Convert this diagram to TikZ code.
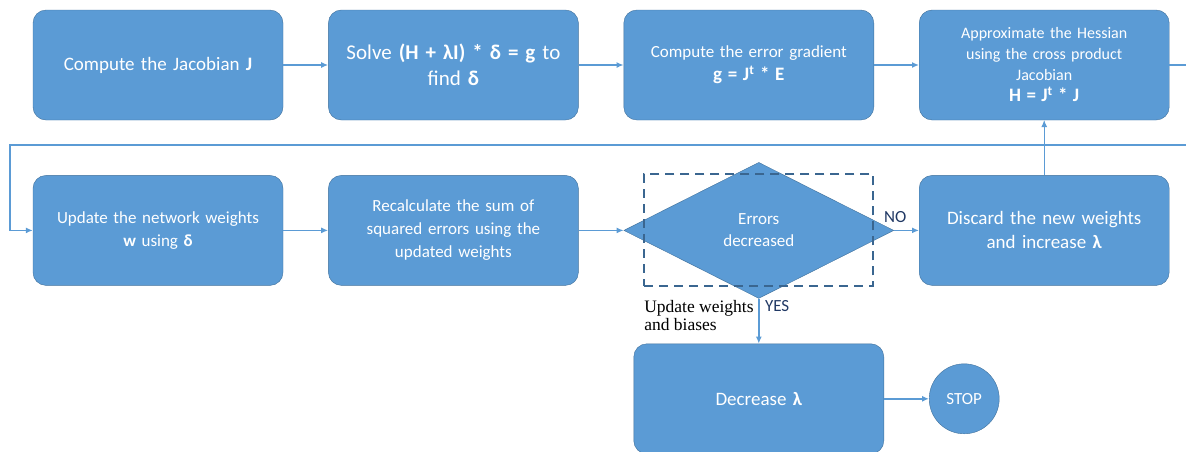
\documentclass[tikz,border=0pt]{standalone}
\usepackage{fontspec}
\setmainfont{Carlito}
\newfontfamily\notefont{Liberation Serif}
\usepackage{xcolor}
\definecolor{boxblue}{HTML}{5B9BD5}
\definecolor{edgeblue}{HTML}{41719C}
\definecolor{dashblue}{HTML}{3A6690}
\definecolor{labelnavy}{HTML}{203864}
\usetikzlibrary{arrows.meta,positioning,shapes.geometric}

\begin{document}
\begin{tikzpicture}[
  x=1pt,y=1pt,
  node distance=45pt,
  stepbox/.style={draw=edgeblue,fill=boxblue,rounded corners=13pt,align=center,minimum width=250pt,minimum height=110pt,text width=238pt,text=white,font=\fontsize{17}{23}\selectfont},
  decision/.style={diamond,draw=edgeblue,fill=boxblue,align=center,minimum width=270pt,minimum height=136pt,inner sep=0pt,text=white,font=\fontsize{17}{22}\selectfont},
  stopnode/.style={circle,draw=edgeblue,fill=boxblue,minimum size=70pt,inner sep=0pt,text=white,font=\fontsize{17}{19}\selectfont},
  arrow/.style={-{Latex[length=7pt,width=6pt]},line width=1.6pt,draw=boxblue},
  thinarrow/.style={-{Latex[length=7pt,width=6pt]},line width=0.7pt,draw=boxblue},
  answer/.style={text=labelnavy,font=\fontsize{17}{19}\selectfont,inner sep=2pt}
]
\useasboundingbox (0,0) rectangle (1186,-451);
% first row
\node[stepbox,font=\fontsize{19}{25}\selectfont] (jac) at (158,-65) {Compute the Jacobian \textbf{J}};
\node[stepbox,right=of jac,font=\fontsize{21}{26}\selectfont] (solve) {Solve \textbf{(H + λI) * δ = g} to\\find \textbf{δ}};
\node[stepbox,right=of solve] (grad) {Compute the error gradient\\{\fontsize{19}{24}\selectfont\textbf{g = J\textsuperscript{t} * E}}};
\node[stepbox,right=of grad,font=\fontsize{16}{21}\selectfont] (hess) {Approximate the Hessian\\using the cross product\\Jacobian\\{\fontsize{19}{22}\selectfont\textbf{H = J\textsuperscript{t} * J}}};
% second row
\node[stepbox,below=55pt of jac] (upd) {Update the network weights\\\textbf{w} using \textbf{δ}};
\node[stepbox,right=of upd] (recalc) {Recalculate the sum of\\squared errors using the\\updated weights};
\node[decision,right=of recalc] (check) {Errors\\decreased};
\node[draw=dashblue,dashed,dash pattern=on 9pt off 6pt,line width=2pt,minimum width=229pt,minimum height=112pt] (frame) at (check) {};
\node[stepbox,right=25pt of check,font=\fontsize{19}{24}\selectfont] (discard) {Discard the new weights\\and increase \textbf{λ}};
% third row
\node[stepbox,below=of check,font=\fontsize{19}{24}\selectfont] (decr) {Decrease \textbf{λ}};
\node[stopnode,right=of decr] (stop) {STOP};
% loop back to second row
\coordinate (loopR) at (1200,-145);
\coordinate (loopL) at (10,-145);

\draw[arrow] (jac) -- (solve);
\draw[arrow] (solve) -- (grad);
\draw[arrow] (grad) -- (hess);
\draw[arrow] (hess.east) -| (loopR) -- (loopL) |- (upd.west);
\draw[arrow] (upd) -- (recalc);
\draw[arrow] (recalc) -- (check);
\draw[arrow] (check.east) -- (discard);
\node[answer,anchor=south west] (no) at ([xshift=-12pt,yshift=6pt]check.east) {NO};
\draw[thinarrow] (discard) -- (hess);
\draw[arrow] (check.south) -- (decr);
\node[answer,anchor=north west] (yes) at ([xshift=4pt,yshift=0pt]check.south) {YES};
\node[anchor=north east,align=left,inner sep=2pt,font=\notefont\fontsize{17.5}{18}\selectfont] (note) at ([xshift=-3pt,yshift=0pt]check.south) {Update weights\\and biases};
\draw[arrow] (decr) -- (stop);
\end{tikzpicture}
\end{document}
